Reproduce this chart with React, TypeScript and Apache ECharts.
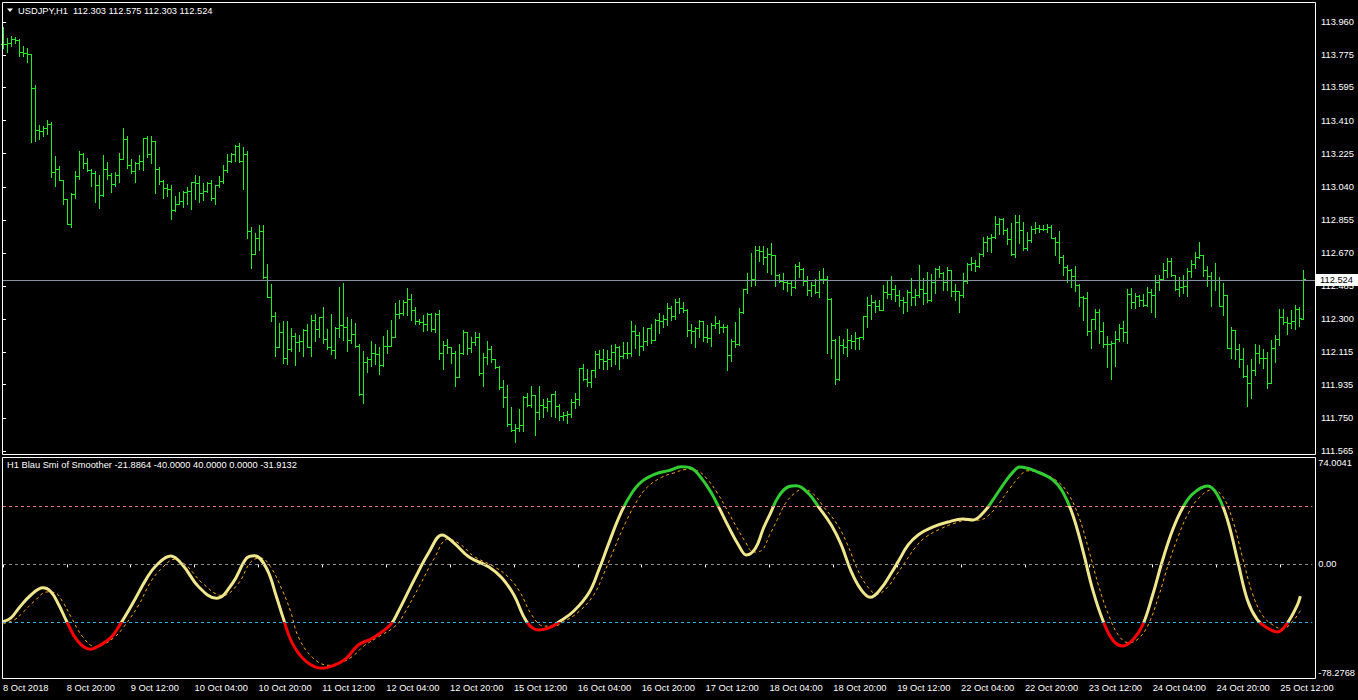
import React, { useEffect, useRef } from 'react';
import * as echarts from 'echarts';

const FONT = '"Liberation Sans", Arial, sans-serif';
const FS = 9.3;

const tickLabels = ['8 Oct 2018', '8 Oct 20:00', '9 Oct 12:00', '10 Oct 04:00', '10 Oct 20:00', '11 Oct 12:00', '12 Oct 04:00', '12 Oct 20:00', '15 Oct 12:00', '16 Oct 04:00', '16 Oct 20:00', '17 Oct 12:00', '18 Oct 04:00', '18 Oct 20:00', '19 Oct 12:00', '22 Oct 04:00', '22 Oct 20:00', '23 Oct 12:00', '24 Oct 04:00', '24 Oct 20:00', '25 Oct 12:00'];
const labelBars = [0, 16, 32, 48, 64, 80, 96, 112, 128, 144, 160, 176, 192, 208, 224, 240, 256, 272, 288, 304, 320];
const priceTicks = [113.96, 113.775, 113.595, 113.41, 113.225, 113.04, 112.855, 112.67, 112.485, 112.3, 112.115, 111.935, 111.75, 111.565];
const smiTicks = [74.0041, 0, -78.2768];
const levels = [40, 0, -40];

const opens = [113.835,113.835,113.841,113.865,113.861,113.790,113.785,113.779,113.589,113.355,
113.351,113.366,113.392,113.120,113.139,113.080,112.972,112.834,113.001,113.098,
113.223,113.173,113.132,113.117,113.048,112.992,113.137,113.104,113.057,113.104,
113.193,113.307,113.161,113.128,113.173,113.182,113.310,113.221,113.294,113.137,
113.072,113.033,113.026,112.908,112.942,112.960,113.013,113.016,113.066,113.061,
113.003,113.018,113.061,112.975,113.048,113.074,113.132,113.182,113.221,113.268,
113.184,113.223,112.793,112.663,112.752,112.793,112.538,112.427,112.317,112.147,
112.231,112.082,112.132,112.205,112.173,112.177,112.240,112.147,112.294,112.244,
112.311,112.192,112.147,112.127,112.252,112.266,112.255,112.183,112.216,112.149,
111.881,112.060,112.077,112.112,112.105,112.043,112.149,112.149,112.203,112.328,
112.335,112.397,112.412,112.350,112.291,112.283,112.272,112.328,112.244,112.330,
112.111,112.155,112.144,112.112,111.977,112.111,112.230,112.138,112.176,112.204,
111.999,112.088,112.135,112.077,112.036,111.924,111.869,111.714,111.684,111.692,
111.709,111.869,111.820,111.876,111.783,111.820,111.809,111.844,111.882,111.817,
111.761,111.766,111.770,111.839,111.856,112.027,111.967,111.951,112.016,112.107,
112.079,112.068,112.077,112.116,112.146,112.094,112.112,112.112,112.233,112.213,
112.152,112.179,112.254,112.185,112.297,112.291,112.300,112.365,112.319,112.397,
112.362,112.352,112.241,112.237,112.250,112.293,112.200,112.194,112.267,112.282,
112.256,112.256,112.101,112.179,112.164,112.341,112.468,112.520,112.524,112.685,
112.684,112.646,112.663,112.658,112.548,112.514,112.511,112.501,112.479,112.596,
112.579,112.516,112.462,112.492,112.453,112.527,112.527,112.414,112.185,111.965,
112.157,112.144,112.183,112.179,112.196,112.200,112.317,112.378,112.399,112.377,
112.352,112.450,112.439,112.467,112.436,112.409,112.395,112.450,112.424,112.434,
112.467,112.445,112.409,112.506,112.581,112.558,112.506,112.573,112.456,112.458,
112.436,112.512,112.607,112.612,112.596,112.663,112.730,112.754,112.757,112.830,
112.862,112.797,112.746,112.666,112.841,112.797,112.696,112.743,112.802,112.811,
112.806,112.804,112.817,112.756,112.730,112.646,112.592,112.573,112.543,112.491,
112.422,112.417,112.233,112.300,112.339,112.233,112.161,112.162,112.166,112.188,
112.250,112.228,112.440,112.399,112.430,112.406,112.378,112.451,112.436,112.507,
112.527,112.576,112.626,112.548,112.471,112.483,112.484,112.572,112.611,112.650,
112.657,112.576,112.540,112.518,112.520,112.376,112.434,112.142,112.241,112.136,
112.081,111.982,111.943,112.015,112.112,112.082,112.082,111.943,112.138,112.188,
112.311,112.287,112.282,112.289,112.356,112.303];

const highs = [113.934,113.869,113.882,113.876,113.865,113.826,113.813,113.779,113.608,113.385,
113.377,113.413,113.401,113.212,113.156,113.078,112.972,113.003,113.128,113.240,
113.230,113.202,113.139,113.128,113.106,113.217,113.178,113.115,113.122,113.228,
113.368,113.323,113.193,113.176,113.217,113.312,113.321,113.323,113.295,113.148,
113.078,113.053,113.048,112.986,113.011,113.018,113.037,113.068,113.106,113.102,
113.061,113.068,113.078,113.050,113.100,113.162,113.223,113.230,113.275,113.283,
113.260,113.238,112.814,112.782,112.825,112.825,112.607,112.497,112.341,112.278,
112.289,112.289,112.252,112.222,112.212,112.244,112.272,112.324,112.328,112.315,
112.369,112.244,112.328,112.259,112.480,112.503,112.311,112.300,112.280,112.160,
112.123,112.090,112.179,112.162,112.146,112.207,112.240,112.294,112.391,112.406,
112.408,112.475,112.441,112.371,112.302,112.324,112.337,112.335,112.335,112.353,
112.179,112.191,112.146,112.125,112.163,112.241,112.183,112.204,112.230,112.222,
112.112,112.179,112.152,112.079,112.038,111.962,111.932,111.811,111.716,111.798,
111.872,111.887,111.926,111.878,111.928,111.857,111.861,111.885,111.900,111.828,
111.783,111.789,111.854,111.887,112.029,112.053,112.021,112.018,112.124,112.129,
112.133,112.127,112.155,112.163,112.153,112.174,112.172,112.289,112.269,112.228,
112.258,112.254,112.276,112.302,112.336,112.324,112.391,112.373,112.414,112.419,
112.397,112.358,112.274,112.256,112.297,112.291,112.269,112.280,112.319,112.297,
112.274,112.267,112.190,112.285,112.364,112.470,112.559,112.671,112.712,112.708,
112.710,112.697,112.726,112.659,112.555,112.559,112.516,112.520,112.611,112.620,
112.585,112.542,112.511,112.527,112.570,112.589,112.544,112.419,112.190,112.207,
112.190,112.246,112.211,112.230,112.203,112.319,112.427,112.436,112.408,112.408,
112.491,112.517,112.542,112.491,112.462,112.424,112.462,112.529,112.469,112.603,
112.529,112.564,112.553,112.586,112.596,112.564,112.592,112.529,112.497,112.458,
112.557,112.612,112.646,112.631,112.670,112.757,112.767,112.774,112.877,112.864,
112.864,112.811,112.836,112.882,112.882,112.841,112.785,112.819,112.841,112.826,
112.826,112.832,112.826,112.759,112.793,112.659,112.601,112.583,112.597,112.497,
112.430,112.450,112.303,112.358,112.358,112.283,112.207,112.179,112.233,112.274,
112.291,112.470,112.475,112.445,112.436,112.442,112.479,112.470,112.548,112.546,
112.615,112.641,112.643,112.550,112.538,112.548,112.589,112.631,112.678,112.732,
112.659,112.600,112.563,112.615,112.535,112.501,112.434,112.255,112.241,112.161,
112.140,112.045,112.079,112.162,112.157,112.133,112.116,112.183,112.215,112.356,
112.358,112.315,112.350,112.378,112.368,112.575];

const lows = [113.816,113.794,113.828,113.841,113.772,113.772,113.738,113.292,113.297,113.307,
113.325,113.333,113.096,113.046,113.078,112.946,112.830,112.817,112.975,113.085,
113.147,113.128,113.044,112.957,112.923,112.986,113.081,113.013,113.046,113.068,
113.193,113.147,113.115,113.068,113.141,113.135,113.208,113.174,113.007,113.057,
112.975,112.990,112.862,112.903,112.942,112.929,112.944,112.918,112.972,112.957,
112.964,113.013,112.968,112.944,113.041,113.063,113.124,113.180,113.186,113.180,
113.029,112.756,112.588,112.663,112.687,112.531,112.423,112.292,112.095,112.144,
112.058,112.051,112.125,112.047,112.125,112.095,112.144,112.097,112.181,112.200,
112.170,112.136,112.106,112.086,112.200,112.185,112.121,112.170,112.144,111.876,
111.835,112.004,112.039,112.051,111.997,112.039,112.110,112.200,112.200,112.309,
112.322,112.324,112.296,112.272,112.272,112.237,112.239,112.233,112.231,112.081,
112.025,112.114,112.058,111.930,111.990,112.105,112.109,112.120,112.159,111.990,
111.930,112.051,112.060,112.031,111.911,111.813,111.707,111.677,111.617,111.679,
111.679,111.817,111.813,111.655,111.742,111.757,111.787,111.763,111.755,111.737,
111.738,111.723,111.757,111.807,111.824,111.962,111.930,111.923,111.980,112.027,
112.023,112.025,112.038,112.053,112.021,112.085,112.085,112.096,112.138,112.103,
112.131,112.155,112.170,112.226,112.226,112.256,112.270,112.297,112.300,112.337,
112.339,112.207,112.170,112.148,112.204,112.181,112.172,112.153,112.252,112.224,
112.230,112.019,112.070,112.148,112.155,112.337,112.449,112.488,112.494,112.628,
112.609,112.565,112.551,112.488,112.509,112.470,112.460,112.434,112.477,112.538,
112.490,112.434,112.432,112.449,112.425,112.501,112.114,112.086,111.941,111.962,
112.114,112.097,112.138,112.136,112.136,112.189,112.259,112.304,112.343,112.350,
112.350,112.421,112.413,112.404,112.376,112.337,112.348,112.380,112.380,112.426,
112.387,112.396,112.404,112.449,112.536,112.463,112.465,112.432,112.408,112.343,
112.426,112.504,112.575,112.570,112.592,112.655,112.683,112.677,112.756,112.778,
112.778,112.720,112.659,112.648,112.728,112.685,112.687,112.733,112.784,112.785,
112.797,112.789,112.752,112.659,112.616,112.547,112.510,112.482,112.460,112.376,
112.298,112.214,112.142,112.246,112.170,112.148,112.036,111.969,112.041,112.181,
112.179,112.170,112.365,112.362,112.376,112.376,112.376,112.343,112.315,112.462,
112.522,112.537,112.540,112.462,112.429,112.445,112.432,112.535,112.585,112.641,
112.544,112.488,112.376,112.466,112.373,112.324,112.138,112.086,112.079,112.036,
111.980,111.818,111.859,111.989,112.058,112.027,111.919,111.943,112.064,112.159,
112.276,112.220,112.250,112.244,112.265,112.303];

const closes = [113.835,113.841,113.865,113.861,113.790,113.785,113.779,113.589,113.355,113.351,
113.366,113.392,113.120,113.139,113.080,112.972,112.834,113.001,113.098,113.223,
113.173,113.132,113.117,113.048,112.992,113.137,113.104,113.057,113.104,113.193,
113.307,113.161,113.128,113.173,113.182,113.310,113.221,113.294,113.137,113.072,
113.033,113.026,112.908,112.942,112.960,113.013,113.016,113.066,113.061,113.003,
113.018,113.061,112.975,113.048,113.074,113.132,113.182,113.221,113.268,113.184,
113.223,112.793,112.663,112.752,112.793,112.538,112.427,112.317,112.147,112.231,
112.082,112.132,112.205,112.173,112.177,112.240,112.147,112.294,112.244,112.311,
112.192,112.147,112.127,112.252,112.266,112.255,112.183,112.216,112.149,111.881,
112.060,112.077,112.112,112.105,112.043,112.149,112.149,112.203,112.328,112.335,
112.397,112.412,112.350,112.291,112.283,112.272,112.328,112.244,112.330,112.111,
112.155,112.144,112.112,111.977,112.111,112.230,112.138,112.176,112.204,111.999,
112.088,112.135,112.077,112.036,111.924,111.869,111.714,111.684,111.692,111.709,
111.869,111.820,111.876,111.783,111.820,111.809,111.844,111.882,111.817,111.761,
111.766,111.770,111.839,111.856,112.027,111.967,111.951,112.016,112.107,112.079,
112.068,112.077,112.116,112.146,112.094,112.112,112.112,112.233,112.213,112.152,
112.179,112.254,112.185,112.297,112.291,112.300,112.365,112.319,112.397,112.362,
112.352,112.241,112.237,112.250,112.293,112.200,112.194,112.267,112.282,112.256,
112.256,112.101,112.179,112.164,112.341,112.468,112.520,112.524,112.685,112.684,
112.646,112.663,112.658,112.548,112.514,112.511,112.501,112.479,112.596,112.579,
112.516,112.462,112.492,112.453,112.527,112.527,112.414,112.185,111.965,112.157,
112.144,112.183,112.179,112.196,112.200,112.317,112.378,112.399,112.377,112.352,
112.450,112.439,112.467,112.436,112.409,112.395,112.450,112.424,112.434,112.467,
112.445,112.409,112.506,112.581,112.558,112.506,112.573,112.456,112.458,112.436,
112.512,112.607,112.612,112.596,112.663,112.730,112.754,112.757,112.830,112.862,
112.797,112.746,112.666,112.841,112.797,112.696,112.743,112.802,112.811,112.806,
112.804,112.817,112.756,112.730,112.646,112.592,112.573,112.543,112.491,112.422,
112.417,112.233,112.300,112.339,112.233,112.161,112.162,112.166,112.188,112.250,
112.228,112.440,112.399,112.430,112.406,112.378,112.451,112.436,112.507,112.527,
112.576,112.626,112.548,112.471,112.483,112.484,112.572,112.611,112.650,112.657,
112.576,112.540,112.518,112.520,112.376,112.434,112.142,112.241,112.136,112.081,
111.982,111.943,112.015,112.112,112.082,112.082,111.943,112.138,112.188,112.311,
112.287,112.282,112.289,112.356,112.306,112.524];

// Blau SMI main line, sampled (bar position, value)
const smiBars = [0,2,4,7,10,12,14,16,18.5,22,24,27,29,32.5,36,38.5,42,45,49,53.5,57.5,61,63,66,68.5,70,72.5,76,80,82.5,86,89,92.5,97,99,103,106.75,110,113,116.75,121.75,125,128,131.25,134.25,136.75,139.25,143,146.75,149.25,151.75,154.75,157.5,160,163.5,166.75,170,172.5,175,177.5,179.25,181.75,184.25,186.25,188.5,190.5,192.25,194.25,196.75,198.75,201.75,204.25,207.5,210,212.5,215,217.25,220,222.5,224.25,226.75,229.25,233,236.75,240.5,243,245.5,248,250.5,253,254.75,259.25,263,265.5,268,270.5,273,275.5,278,280.5,283,285.5,288,290.5,293,295.5,298,301.75,304.25,306.75,309.25,311.75,314.25,316.75,319.25,321.75,324.25,325];
const smiValues = [-39.5,-36.9,-30.0,-21.1,-16.1,-18.8,-28.0,-39.5,-52.0,-58.5,-56.2,-50.5,-42.9,-26.8,-9.6,-0.4,5.8,-0.4,-15.4,-23.4,-13.0,4.2,6.0,-2.7,-22.3,-35.3,-54.4,-67.0,-71.6,-70.0,-64.7,-55.5,-50.9,-41.8,-32.6,-10.7,8.5,20.3,14.7,5.1,-1.8,-9.4,-21.1,-39.7,-45.2,-43.8,-39.7,-32.1,-19.7,-3.9,14.5,35.2,49.0,57.0,62.3,64.6,67.3,66.2,59.3,49.0,39.8,26.0,13.4,6.5,11.1,24.9,35.2,46.6,53.5,54.2,49.0,39.8,27.1,13.4,-5.0,-17.6,-22.7,-16.5,-6.1,1.9,13.4,20.3,25.8,29.2,31.3,30.6,35.4,44.4,54.7,63.6,67.1,63.6,58.2,49.9,34.0,9.9,-17.6,-38.3,-52.1,-56.2,-52.1,-41.8,-21.1,3.0,23.7,38.9,48.5,54.0,47.8,30.6,3.0,-24.5,-38.3,-43.8,-46.6,-40.4,-28.0,-21.8864];

// signal (dashed) line, sampled
const sigBars = [0,3,5,8,11,13,15,17,20,23,25,28,30,34,37,40,43,46,50,55,59,62,64.5,67,70,72,74,77.5,81.5,84,87.5,90.5,94,98.5,100.5,104.5,108,111.5,114.5,118,123,126.5,129.5,132.5,135.5,138,140.5,144.5,148,150.5,153,156,159,161.5,165,168,171.5,174,176.5,179,181,183.5,186,188,190,192,194,196,198.5,200.5,203,205.5,209,211.5,214,216.5,219,221.5,224,226,228.5,231,234.5,238,242,244.5,247,249.5,252,254.5,256.5,260.5,264.5,267,269.5,272,274.5,277,279.5,282,284.5,287,289.5,292,294.5,297,299.5,303,305.5,308,310.5,313,315.5,318,320.5,323,325];
const sigValues = [-41,-38,-33,-25,-19,-19.5,-26,-36,-50,-56.5,-55.5,-50,-44,-28,-12,-2,3.5,-1,-13,-21.5,-13,1.5,4.5,-1.5,-18,-32,-50,-64,-69.5,-68.5,-63.5,-56,-50,-42,-34,-14,4,17.5,14,5.5,-1.5,-8.5,-19,-35,-42.5,-42.5,-39.5,-32,-21,-6.5,10,29,44.5,53.5,60,63,65.5,64.5,58.5,49,39.5,27,15.5,8.5,9.5,20,31,42,49.5,52,48.5,40,27.5,14,-3,-15,-20.5,-16,-6.5,1.5,11.5,18.5,24,28,30.5,30.5,34,42,51.5,60,64.5,62.5,56.5,48,33,10,-15,-35,-49,-54,-51,-41,-22,0.5,20,35.5,45.5,51.5,47,31,5,-20,-35,-41.5,-44.5,-39.5,-31.9132];

const PRICE_MIN = 111.5483;
const PRICE_MAX = 114.0717;
const SMI_MAX = 74.0041;
const SMI_MIN = -78.2768;

const BAR_COLOR = '#22ee22';

export default function App() {
  const ref = useRef<HTMLDivElement>(null);
  useEffect(() => {
    document.body.style.margin = '0';
    document.body.style.background = '#000';
    const chart = echarts.init(ref.current!, null, { renderer: 'svg' });
    const last = closes.length - 1;
    const barData = closes.map((c, i) => [i, opens[i], highs[i], lows[i], c]);
    const smiData = smiBars.map((b, k) => [b, smiValues[k]]);
    const sigData = sigBars.map((b, k) => [b, sigValues[k]]);
    const header = `USDJPY,H1  ${opens[last].toFixed(3)} ${highs[last].toFixed(3)} ${lows[last].toFixed(3)} ${closes[last].toFixed(3)}`;
    const smiHeader = `H1 Blau Smi of Smoother ${smiValues[smiValues.length - 1].toFixed(4)} ${(-40).toFixed(4)} ${(40).toFixed(4)} ${(0).toFixed(4)} ${sigValues[sigValues.length - 1].toFixed(4)}`;
    const lbl = { color: '#fff', fontSize: FS, fontFamily: FONT };

    const option: any = {
      animation: false,
      backgroundColor: '#000',
      textStyle: { fontFamily: FONT },
      grid: [
        { left: 3, top: 2, width: 1312, height: 452 },
        { left: 3, top: 457, width: 1312, height: 221 },
      ],
      xAxis: [
        { type: 'value', gridIndex: 0, min: 0, max: 328, show: false },
        {
          type: 'value', gridIndex: 1, min: 0, max: 328,
          axisLine: { show: false }, splitLine: { show: false },
          axisTick: { show: true, customValues: labelBars, length: 3, lineStyle: { color: '#fff' } },
          axisLabel: {
            customValues: labelBars, color: '#fff', fontSize: FS, fontFamily: FONT, align: 'left', margin: 5,
            formatter: (v: number) => tickLabels[Math.round(v / 16)] ?? '',
          },
        },
      ],
      yAxis: [
        {
          type: 'value', gridIndex: 0, position: 'right', min: PRICE_MIN, max: PRICE_MAX,
          axisLine: { show: false }, splitLine: { show: false },
          axisTick: { show: true, customValues: priceTicks, length: 3, lineStyle: { color: '#fff' } },
          axisLabel: { customValues: priceTicks, color: '#fff', fontSize: FS, fontFamily: FONT, margin: 6, formatter: (v: number) => v.toFixed(3) },
        },
        {
          type: 'value', gridIndex: 1, position: 'right', min: SMI_MIN, max: SMI_MAX,
          axisLine: { show: false }, splitLine: { show: false },
          axisTick: { show: true, customValues: smiTicks, length: 3, lineStyle: { color: '#fff' } },
          axisLabel: {
            customValues: smiTicks, color: '#fff', fontSize: FS, fontFamily: FONT, margin: 6,
            formatter: (v: number) => {
              if (Math.abs(v - SMI_MAX) < 1e-6) return `{t|${v.toFixed(4)}}`;
              if (Math.abs(v - SMI_MIN) < 1e-6) return `{b|${v.toFixed(4)}}`;
              return '0.00';
            },
            rich: {
              t: { ...lbl, padding: [11, 0, 0, 0] },
              b: { ...lbl, padding: [0, 0, 11, 0] },
            },
          },
        },
      ],
      visualMap: {
        type: 'piecewise', show: false, seriesIndex: 2, dimension: 1,
        pieces: [
          { gt: 40, color: '#32cd32' },
          { gte: -40, lte: 40, color: '#f0e68c' },
          { lt: -40, color: '#ff0000' },
        ],
      },
      series: [
        {
          type: 'custom', xAxisIndex: 0, yAxisIndex: 0, data: barData, silent: true,
          encode: { x: 0, y: [1, 2, 3, 4] },
          renderItem: (params: any, api: any) => {
            const i = api.value(0);
            const pO = api.coord([i, api.value(1)]);
            const pH = api.coord([i, api.value(2)]);
            const pL = api.coord([i, api.value(3)]);
            const pC = api.coord([i, api.value(4)]);
            const px = Math.round(pH[0]);
            const x = px + 0.5;
            const top = Math.round(Math.min(pH[1], pO[1], pC[1]));
            const bot = Math.round(Math.max(pL[1], pO[1], pC[1])) + 1;
            const yo = Math.round(pO[1]) + 0.5;
            const yc = Math.round(pC[1]) + 0.5;
            const st = { stroke: BAR_COLOR, lineWidth: 1 };
            return {
              type: 'group',
              children: [
                { type: 'line', shape: { x1: x, y1: top, x2: x, y2: bot }, style: st },
                { type: 'line', shape: { x1: px - 2, y1: yo, x2: px, y2: yo }, style: st },
                { type: 'line', shape: { x1: px + 1, y1: yc, x2: px + 3, y2: yc }, style: st },
              ],
            };
          },
        },
        {
          type: 'line', xAxisIndex: 0, yAxisIndex: 0, data: [[last, closes[last]]], showSymbol: false, silent: true,
          lineStyle: { opacity: 0 },
          markLine: {
            silent: true, symbol: ['none', 'none'],
            data: [{ yAxis: closes[last] }],
            lineStyle: { color: '#8593a4', width: 1, type: 'solid' },
            label: {
              show: true, position: 'end', distance: 1, formatter: closes[last].toFixed(3),
              backgroundColor: '#fff', color: '#000', fontSize: FS, fontFamily: FONT, padding: [2, 6, 1, 4],
            },
          },
        },
        {
          type: 'line', xAxisIndex: 1, yAxisIndex: 1, data: smiData, smooth: 0.4, showSymbol: false, silent: true,
          lineStyle: { width: 3 },
          z: 3,
        },
        {
          type: 'line', xAxisIndex: 1, yAxisIndex: 1, data: sigData, smooth: 0.4, showSymbol: false, silent: true,
          lineStyle: { width: 1, color: '#ffa500', type: [3, 3] },
          itemStyle: { color: '#ffa500' },
          z: 2,
          markLine: {
            silent: true, symbol: ['none', 'none'], label: { show: false },
            data: [
              { yAxis: levels[0], lineStyle: { color: '#e8708a', type: [3, 3], width: 1 } },
              { yAxis: levels[1], lineStyle: { color: '#8c8c8c', type: [3, 3], width: 1 } },
              { yAxis: levels[2], lineStyle: { color: '#2ab6e6', type: [3, 3], width: 1 } },
            ],
          },
        },
      ],
      graphic: [
        { type: 'rect', shape: { x: 2.5, y: 2.5, width: 1313, height: 452 }, style: { fill: 'none', stroke: '#fff', lineWidth: 1 }, silent: true, z: 10 },
        { type: 'rect', shape: { x: 2.5, y: 457.5, width: 1313, height: 221 }, style: { fill: 'none', stroke: '#fff', lineWidth: 1 }, silent: true, z: 10 },
        { type: 'polygon', shape: { points: [[7, 8.5], [13, 8.5], [10, 12]] }, style: { fill: '#fff' }, silent: true, z: 10 },
        { type: 'text', x: 18, y: 11, style: { text: header, fill: '#fff', font: `${FS}px ${FONT}`, verticalAlign: 'middle', align: 'left' }, silent: true, z: 10 },
        { type: 'text', x: 7, y: 465, style: { text: smiHeader, fill: '#fff', font: `${FS}px ${FONT}`, verticalAlign: 'middle', align: 'left' }, silent: true, z: 10 },
      ],
    };
    chart.setOption(option);
    return () => chart.dispose();
  }, []);
  return <div ref={ref} style={{ position: 'fixed', left: 0, top: 0, width: 1358, height: 700, background: '#000' }} />;
}
